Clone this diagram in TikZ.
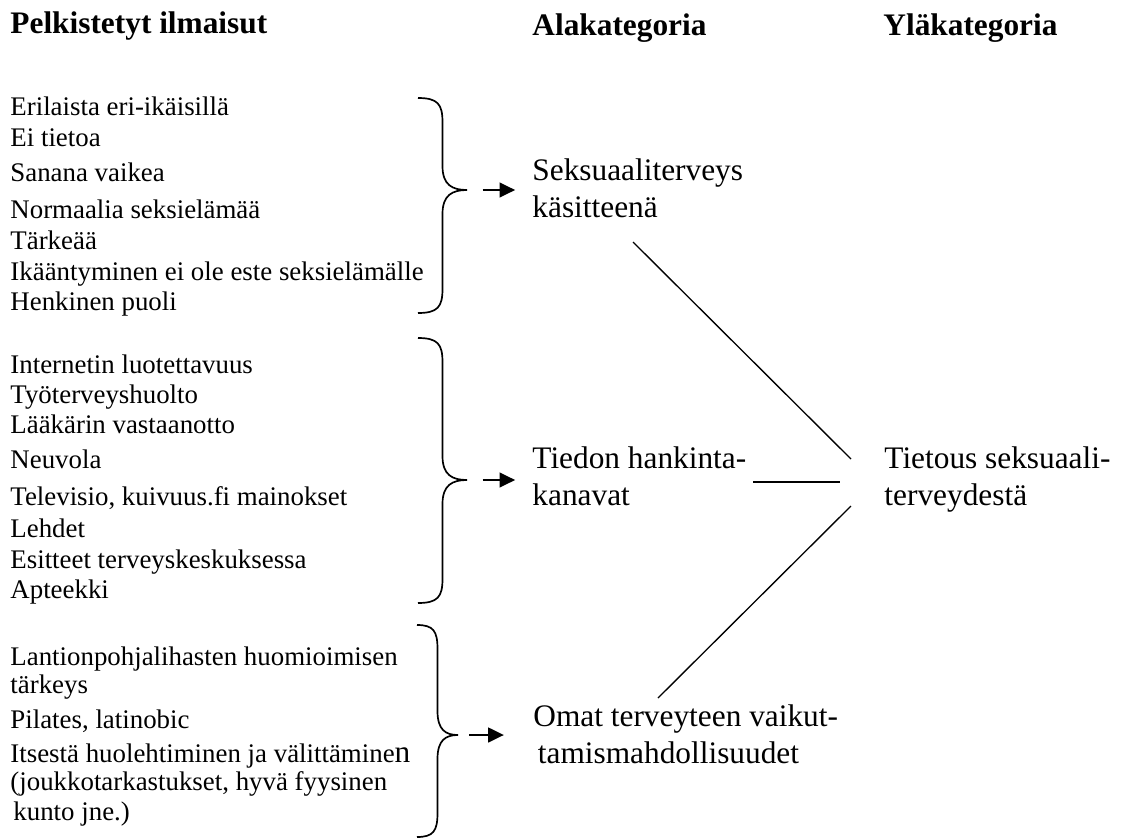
\documentclass[tikz,border=0pt]{standalone}
\usepackage{fontspec}
\setmainfont{Liberation Serif}
\usetikzlibrary{arrows.meta,positioning}

% aaltosulje: x, yläpää, kärki, alapää, puolileveys
\newcommand{\sulje}[5]{%
	\draw[curly] (#1,#2) .. controls ({#1+0.8*#5},#2) and ({#1+#5},{#2+6}) .. ({#1+#5},{#2+24})
	-- ({#1+#5},{#3-24}) .. controls ({#1+#5},{#3-5}) and ({#1+1.4*#5},#3) .. ({#1+2*#5},#3)
	.. controls ({#1+1.4*#5},#3) and ({#1+#5},{#3+5}) .. ({#1+#5},{#3+24})
	-- ({#1+#5},{#4-24}) .. controls ({#1+#5},{#4-6}) and ({#1+0.8*#5},#4) .. (#1,#4);}

\begin{document}
\begin{tikzpicture}[x=0.0157cm,y=-0.0157cm,
	item/.style={anchor=base west,inner sep=0pt,font=\fontsize{12}{14}\selectfont},
	head/.style={anchor=base west,inner sep=0pt,font=\fontsize{14}{16}\selectfont\bfseries},
	cat/.style={anchor=base west,inner sep=0pt,align=left,font=\fontsize{14}{16.1}\selectfont},
	curly/.style={line width=0.75pt},
	arr/.style={-{Triangle[length=7pt,width=6.5pt]},line width=1.1pt},
	link/.style={line width=0.6pt}]
	\useasboundingbox (0,0) rectangle (1123,839);

	% otsikot
	\node[head] (h1) at (10,33) {Pelkistetyt ilmaisut};
	\node[head] (h2) at (532,35) {Alakategoria};
	\node[head] (h3) at (883,35) {Yläkategoria};

	% pelkistetyt ilmaisut
	\node[item] (e1) at (10,115) {Erilaista eri-ikäisillä};
	\node[item] (e2) at (10,146) {Ei tietoa};
	\node[item] (e3) at (10,181) {Sanana vaikea};
	\node[item] (e4) at (10,218) {Normaalia seksielämää};
	\node[item] (e5) at (10,249) {Tärkeää};
	\node[item] (e6) at (10,280) {Ikääntyminen ei ole este seksielämälle};
	\node[item] (e7) at (10,310) {Henkinen puoli};

	\node[item] (k1) at (10,373) {Internetin luotettavuus};
	\node[item] (k2) at (10,403) {Työterveyshuolto};
	\node[item] (k3) at (10,433) {Lääkärin vastaanotto};
	\node[item] (k4) at (10,468) {Neuvola};
	\node[item] (k5) at (10,505) {Televisio, kuivuus.fi mainokset};
	\node[item] (k6) at (10,537) {Lehdet};
	\node[item] (k7) at (10,568) {Esitteet terveyskeskuksessa};
	\node[item] (k8) at (10,598) {Apteekki};

	\node[item] (o1) at (10,665) {Lantionpohjalihasten huomioimisen};
	\node[item] (o2) at (10,693) {tärkeys};
	\node[item] (o3) at (10,728) {Pilates, latinobic};
	\node[item] (o4) at (10,762) {Itsestä huolehtiminen ja välittämine{\fontsize{14}{16}\selectfont n}};
	\node[item] (o5) at (10,790) {(joukkotarkastukset, hyvä fyysinen};
	\node[item] (o6) at (13,820) {kunto jne.)};

	% sulkeet
	\sulje{418}{98}{190}{313}{24.5}
	\sulje{418}{338}{480}{603}{24.5}
	\sulje{417}{625}{735}{837}{20.5}
	\coordinate (b1) at (467,190);
	\coordinate (b2) at (467,480);
	\coordinate (b3) at (458,735);

	% alakategoriat
	\node[cat] (sek) at (532,217) {Seksuaaliterveys\\käsitteenä};
	\node[cat] (tie) at (532,505) {Tiedon hankinta-\\kanavat};
	\node[cat] (oma) at (533,763) {Omat terveyteen vaikut-\\\hspace{2pt}tamismahdollisuudet};

	% yläkategoria
	\node[cat] (yla) at (884,505) {Tietous seksuaali-\\terveydestä};

	\path[arr] (b1) edge[shorten <=7pt,shorten >=7.5pt] (b1 -| sek.west)
	(b2) edge[shorten <=7pt,shorten >=7.5pt] (b2 -| tie.west)
	(b3) edge[shorten <=5pt,shorten >=13pt] (b3 -| oma.west);

	\coordinate (s1) at (633,242);
	\coordinate (y1) at (851,459);
	\coordinate (t1) at (753,482);
	\coordinate (y2) at (840,482);
	\coordinate (y3) at (851,506);
	\coordinate (m1) at (658,698);
	\draw[link] (s1) -- (y1);
	\draw[link] (t1) -- (y2);
	\draw[link] (m1) -- (y3);
\end{tikzpicture}
\end{document}
